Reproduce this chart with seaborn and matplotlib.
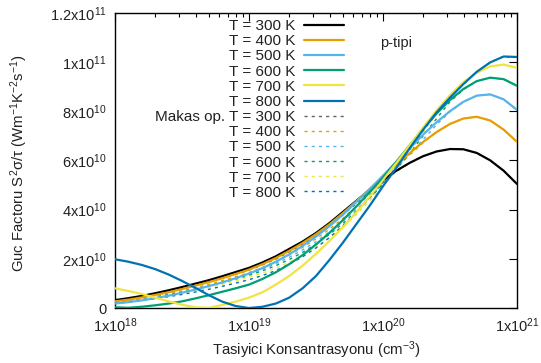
import numpy as np
import pandas as pd
import matplotlib
matplotlib.use("Agg")
import matplotlib.pyplot as plt
import seaborn as sns
from matplotlib.lines import Line2D
from matplotlib.ticker import FixedLocator, FixedFormatter, LogLocator, NullFormatter, NullLocator

# ---------------- data ----------------
log_conc = [18.0, 18.1, 18.2, 18.3, 18.4, 18.5, 18.6, 18.7, 18.8, 18.9,
            19.0, 19.1, 19.2, 19.3, 19.4, 19.5, 19.6, 19.7, 19.8, 19.9,
            20.0, 20.1, 20.2, 20.3, 20.4, 20.5, 20.6, 20.7, 20.8, 20.9, 21.0]

temps = ["300", "400", "500", "600", "700", "800"]

# power factor, units of 1e10 W m^-1 K^-2 s^-1
pf_300 = [0.32, 0.40, 0.49, 0.60, 0.72, 0.85, 0.99, 1.13, 1.29, 1.46,
          1.63, 1.85, 2.10, 2.40, 2.70, 3.05, 3.45, 3.90, 4.35, 4.80,
          5.20, 5.58, 5.90, 6.17, 6.36, 6.46, 6.45, 6.30, 6.00, 5.58, 5.04]
pf_400 = [0.27, 0.34, 0.43, 0.53, 0.64, 0.77, 0.91, 1.05, 1.21, 1.38,
          1.56, 1.78, 2.03, 2.32, 2.64, 3.00, 3.40, 3.85, 4.33, 4.83,
          5.33, 5.83, 6.30, 6.75, 7.15, 7.48, 7.70, 7.77, 7.62, 7.25, 6.75]
pf_500 = [0.18, 0.24, 0.31, 0.40, 0.50, 0.62, 0.75, 0.89, 1.04, 1.21,
          1.40, 1.62, 1.88, 2.18, 2.52, 2.90, 3.32, 3.79, 4.30, 4.83,
          5.38, 5.94, 6.50, 7.05, 7.55, 8.00, 8.38, 8.63, 8.68, 8.48, 8.05]
pf_600 = [0.03, 0.01, 0.05, 0.11, 0.18, 0.27, 0.39, 0.52, 0.66, 0.80,
          0.95, 1.18, 1.45, 1.78, 2.15, 2.58, 3.05, 3.57, 4.12, 4.70,
          5.30, 5.95, 6.62, 7.28, 7.90, 8.45, 8.90, 9.22, 9.36, 9.30, 9.03]
pf_700 = [0.80, 0.69, 0.57, 0.42, 0.27, 0.13, 0.03, 0.01, 0.12, 0.26,
          0.42, 0.64, 0.95, 1.30, 1.72, 2.20, 2.72, 3.28, 3.88, 4.52,
          5.20, 5.90, 6.62, 7.34, 8.03, 8.65, 9.18, 9.56, 9.82, 9.89, 9.76]
pf_800 = [1.98, 1.88, 1.75, 1.58, 1.36, 1.10, 0.82, 0.52, 0.26, 0.08,
          0.00, 0.05, 0.18, 0.42, 0.80, 1.30, 1.95, 2.65, 3.40, 4.15,
          4.95, 5.70, 6.50, 7.25, 7.95, 8.55, 9.10, 9.60, 9.98, 10.22, 10.20]

# scissor operator ("Makas op.")
sc_300 = [0.30, 0.37, 0.46, 0.56, 0.67, 0.79, 0.92, 1.06, 1.21, 1.37,
          1.54, 1.75, 1.99, 2.28, 2.58, 2.93, 3.33, 3.78, 4.24, 4.71,
          5.14, 5.55, 5.90, 6.17, 6.36, 6.46, 6.45, 6.30, 6.00, 5.58, 5.04]
sc_400 = [0.24, 0.31, 0.39, 0.48, 0.58, 0.70, 0.83, 0.96, 1.11, 1.27,
          1.44, 1.64, 1.88, 2.15, 2.46, 2.81, 3.20, 3.64, 4.12, 4.63,
          5.15, 5.70, 6.22, 6.72, 7.15, 7.48, 7.70, 7.77, 7.62, 7.25, 6.75]
sc_500 = [0.22, 0.28, 0.36, 0.45, 0.55, 0.66, 0.78, 0.91, 1.05, 1.21,
          1.38, 1.57, 1.80, 2.06, 2.36, 2.70, 3.09, 3.52, 4.00, 4.52,
          5.06, 5.65, 6.25, 6.85, 7.45, 7.97, 8.37, 8.63, 8.68, 8.48, 8.05]
sc_600 = [0.21, 0.27, 0.34, 0.43, 0.53, 0.64, 0.76, 0.89, 1.02, 1.17,
          1.33, 1.51, 1.72, 1.97, 2.26, 2.60, 2.99, 3.43, 3.92, 4.46,
          5.03, 5.65, 6.30, 7.00, 7.70, 8.38, 8.88, 9.22, 9.36, 9.30, 9.03]
sc_700 = [0.20, 0.26, 0.33, 0.41, 0.50, 0.60, 0.71, 0.83, 0.96, 1.10,
          1.25, 1.42, 1.62, 1.86, 2.14, 2.47, 2.85, 3.29, 3.79, 4.35,
          4.96, 5.62, 6.35, 7.12, 7.90, 8.58, 9.15, 9.56, 9.82, 9.89, 9.76]
sc_800 = [0.19, 0.24, 0.31, 0.38, 0.46, 0.55, 0.65, 0.76, 0.88, 1.01,
          1.15, 1.32, 1.52, 1.78, 2.08, 2.44, 2.86, 3.34, 3.88, 4.48,
          5.10, 5.72, 6.45, 7.22, 7.95, 8.55, 9.10, 9.60, 9.98, 10.22, 10.20]

x_ticks = [1e18, 1e19, 1e20, 1e21]
x_tick_labels = [r"1x10$^{18}$", r"1x10$^{19}$", r"1x10$^{20}$", r"1x10$^{21}$"]
y_ticks = [0, 2e10, 4e10, 6e10, 8e10, 1e11, 1.2e11]
y_tick_labels = ["0", r"2x10$^{10}$", r"4x10$^{10}$", r"6x10$^{10}$",
                 r"8x10$^{10}$", r"1x10$^{11}$", r"1.2x10$^{11}$"]

solid_colors = ["#000000", "#e69f00", "#56b4e9", "#009e73", "#f0e442", "#0072b2"]
dash_colors = ["#606060", "#e69f00", "#56b4e9", "#009e73", "#f0e442", "#0072b2"]

# ---------------- plot ----------------
sns.set_theme(style="white")
plt.rcParams['font.family'] = ['Liberation Sans', 'DejaVu Sans']
plt.rcParams['mathtext.fontset'] = 'custom'
plt.rcParams['mathtext.rm'] = 'Liberation Sans'
plt.rcParams['mathtext.it'] = 'Liberation Sans:italic'
plt.rcParams['mathtext.bf'] = 'Liberation Sans:bold'

fig = plt.figure(figsize=(5.41, 3.63), dpi=100)
ax = fig.add_axes([115 / 541, 1 - 308 / 363, 402 / 541, 295.3 / 363])
ax.set_xscale('log')

conc = 10 ** np.array(log_conc)
solid_sets = [pf_300, pf_400, pf_500, pf_600, pf_700, pf_800]
dash_sets = [sc_300, sc_400, sc_500, sc_600, sc_700, sc_800]

rows = []
for t, vals in zip(temps, solid_sets):
    for c, v in zip(conc, vals):
        rows.append({"conc": c, "pf": v * 1e10, "T": t, "kind": "solid"})
for t, vals in zip(temps, dash_sets):
    for c, v in zip(conc, vals):
        rows.append({"conc": c, "pf": v * 1e10, "T": t, "kind": "scissor"})
df = pd.DataFrame(rows)

dash_style = (0, (2.2, 3.0))
for t, col in zip(temps, dash_colors):
    sub = df[(df["T"] == t) & (df["kind"] == "scissor")]
    sns.lineplot(data=sub, x="conc", y="pf", ax=ax, color=col, lw=1.0,
                 linestyle=dash_style, estimator=None, legend=False, zorder=2)
for t, col in zip(temps, solid_colors):
    sub = df[(df["T"] == t) & (df["kind"] == "solid")]
    sns.lineplot(data=sub, x="conc", y="pf", ax=ax, color=col, lw=1.6,
                 estimator=None, legend=False, zorder=3)

ax.set_xlim(1e18, 1e21)
ax.set_ylim(0, 1.2e11)

ax.xaxis.set_major_locator(FixedLocator(x_ticks))
ax.xaxis.set_major_formatter(FixedFormatter(x_tick_labels))
ax.xaxis.set_minor_locator(LogLocator(base=10, subs=np.arange(2, 10)))
ax.xaxis.set_minor_formatter(NullFormatter())
ax.yaxis.set_major_locator(FixedLocator(y_ticks))
ax.yaxis.set_major_formatter(FixedFormatter(y_tick_labels))
ax.yaxis.set_minor_locator(NullLocator())

ax.tick_params(which='both', direction='in', top=True, right=True,
               color='black', labelsize=10.5, labelcolor='#222222')
ax.tick_params(which='major', length=6, width=0.8)
ax.tick_params(which='minor', length=3, width=0.8)
ax.tick_params(axis='x', pad=6)
ax.tick_params(axis='y', pad=6)
for s in ax.spines.values():
    s.set_color('black')
    s.set_linewidth(1.0)

ax.set_xlabel("Tasiyici Konsantrasyonu (cm$^{-3}$)", fontsize=10.7, color='#222222')
ax.set_ylabel("Guc Factoru S$^2$σ/τ (Wm$^{-1}$K$^{-2}$s$^{-1}$)", fontsize=10.7, color='#222222')
ax.xaxis.set_label_coords(0.5, -0.105)
ax.yaxis.set_label_coords(-0.211, 0.49)

ax.text(0.66, 0.897, "p-tipi", transform=ax.transAxes, fontsize=10.5,
        va='center', ha='left', color='#222222')

handles, labels = [], []
for t, col in zip(temps, solid_colors):
    handles.append(Line2D([], [], color=col, lw=1.6))
    labels.append(f"T = {t} K")
for i, (t, col) in enumerate(zip(temps, dash_colors)):
    handles.append(Line2D([], [], color=col, lw=1.0, linestyle=dash_style))
    labels.append(("Makas op. " if i == 0 else "") + f"T = {t} K")

leg = ax.legend(handles, labels, loc='upper right', bbox_to_anchor=(0.570, 0.978),
                frameon=False, markerfirst=False, fontsize=11, labelspacing=0.075,
                handlelength=2.6, handletextpad=0.6, borderpad=0, borderaxespad=0)
for txt in leg.get_texts():
    txt.set_color('#222222')

fig.savefig("out.png", dpi=100)
